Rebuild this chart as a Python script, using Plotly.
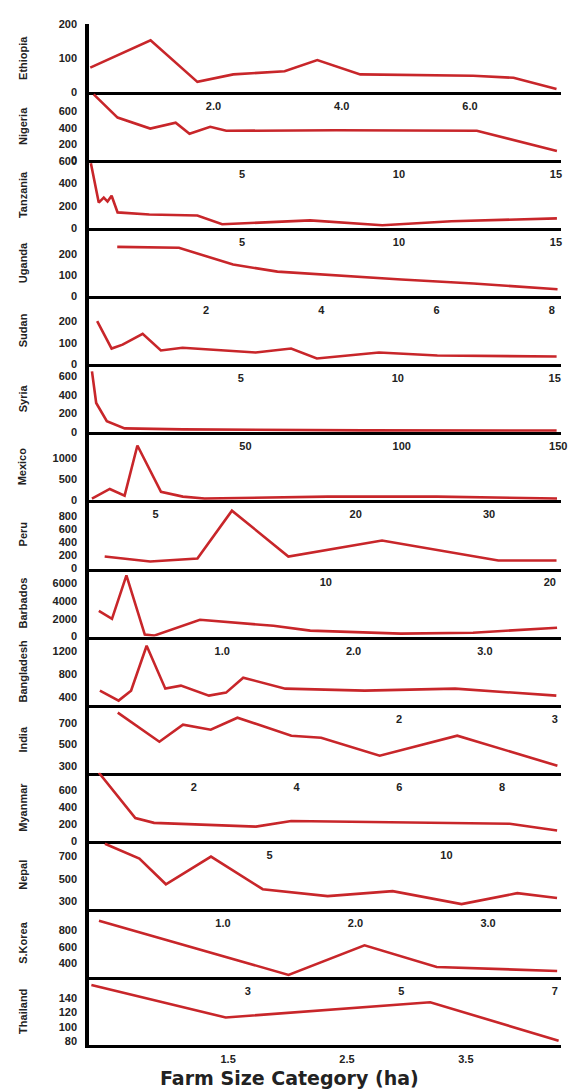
import plotly.graph_objects as go
from plotly.subplots import make_subplots

countries = ["Ethiopia", "Nigeria", "Tanzania", "Uganda", "Sudan", "Syria", "Mexico",
             "Peru", "Barbados", "Bangladesh", "India", "Myanmar", "Nepal", "S.Korea", "Thailand"]

# farm size category (ha) and output per ha
ethiopia_x = [0.08, 1.02, 1.75, 2.31, 3.11, 3.62, 4.29, 6.05, 6.68, 7.35]
ethiopia_y = [72, 152, 30, 52, 61, 94, 52, 48, 42, 9]

nigeria_x = [0.28, 1.04, 2.08, 2.89, 3.33, 3.99, 4.5, 8.0, 12.48, 15.03]
nigeria_y = [812, 525, 390, 462, 325, 412, 362, 368, 362, 112]

tanzania_x = [0.19, 0.44, 0.6, 0.72, 0.85, 1.04, 2.05, 3.58, 4.37, 7.17, 9.47, 11.67, 15.03]
tanzania_y = [581, 229, 273, 238, 290, 141, 123, 114, 35, 70, 26, 62, 88]

uganda_x = [0.46, 1.53, 2.47, 3.24, 5.39, 6.64, 8.1]
uganda_y = [232, 228, 149, 116, 79, 60, 33]

sudan_x = [0.42, 0.88, 1.23, 1.87, 2.45, 3.14, 5.47, 6.6, 7.42, 9.4, 11.26, 15.06]
sudan_y = [200, 73, 91, 141, 64, 77, 55, 73, 27, 55, 41, 36]

syria_x = [0.95, 2.3, 5.7, 11.4, 30, 88, 149.5]
syria_y = [650, 313, 119, 43, 32, 22, 20]

mexico_x = [0.22, 1.56, 2.67, 3.63, 5.4, 7.04, 8.67, 17.9, 26.1, 35.1]
mexico_y = [45, 272, 113, 1300, 204, 91, 45, 91, 91, 45]

peru_x = [0.13, 2.16, 4.27, 5.81, 8.33, 12.51, 17.7, 20.3]
peru_y = [185, 108, 154, 890, 185, 431, 123, 123]

barbados_x = [0.06, 0.16, 0.27, 0.41, 0.48, 0.83, 1.39, 1.67, 2.36, 2.91, 3.55]
barbados_y = [2890, 2000, 6880, 220, 110, 1890, 1220, 670, 330, 440, 1000]

bangladesh_x = [0.08, 0.2, 0.28, 0.38, 0.5, 0.6, 0.78, 0.89, 1.0, 1.27, 1.78, 2.36, 3.01]
bangladesh_y = [519, 349, 519, 1284, 553, 604, 434, 485, 740, 553, 519, 553, 434]

india_x = [0.52, 1.33, 1.79, 2.33, 2.85, 3.9, 4.48, 5.62, 7.13, 9.08]
india_y = [793, 523, 681, 635, 746, 579, 560, 393, 579, 300]

myanmar_x = [0.17, 1.2, 1.73, 4.61, 5.61, 11.79, 13.13]
myanmar_y = [800, 267, 211, 167, 233, 200, 122]

nepal_x = [0.11, 0.37, 0.57, 0.91, 1.3, 1.79, 2.28, 2.8, 3.22, 3.52]
nepal_y = [816, 683, 451, 700, 407, 345, 389, 273, 371, 327]

skorea_x = [1.06, 3.53, 4.52, 5.46, 7.03]
skorea_y = [920, 255, 618, 352, 303]

thailand_x = [0.35, 1.48, 3.2, 4.28]
thailand_y = [158, 113, 134, 81]

series_x = [ethiopia_x, nigeria_x, tanzania_x, uganda_x, sudan_x, syria_x, mexico_x, peru_x,
            barbados_x, bangladesh_x, india_x, myanmar_x, nepal_x, skorea_x, thailand_x]
series_y = [ethiopia_y, nigeria_y, tanzania_y, uganda_y, sudan_y, syria_y, mexico_y, peru_y,
            barbados_y, bangladesh_y, india_y, myanmar_y, nepal_y, skorea_y, thailand_y]

# x tick values / labels per panel
x_tickvals = [[2, 4, 6], [5, 10, 15], [5, 10, 15], [2, 4, 6, 8], [5, 10, 15], [50, 100, 150],
              [5, 20, 30], [10, 20], [1, 2, 3], [2, 3], [2, 4, 6, 8], [5, 10], [1, 2, 3],
              [3, 5, 7], [1.5, 2.5, 3.5]]
x_ticktext = [["2.0", "4.0", "6.0"], ["5", "10", "15"], ["5", "10", "15"], ["2", "4", "6", "8"],
              ["5", "10", "15"], ["50", "100", "150"], ["5", "20", "30"], ["10", "20"],
              ["1.0", "2.0", "3.0"], ["2", "3"], ["2", "4", "6", "8"], ["5", "10"],
              ["1.0", "2.0", "3.0"], ["3", "5", "7"], ["1.5", "2.5", "3.5"]]
# y tick values per panel
y_tickvals = [[0, 100, 200], [0, 200, 400, 600], [0, 200, 400, 600], [0, 100, 200],
              [0, 100, 200], [0, 200, 400, 600], [0, 500, 1000], [0, 200, 400, 600, 800],
              [0, 2000, 4000, 6000], [400, 800, 1200], [300, 500, 700], [0, 200, 400, 600],
              [300, 500, 700], [400, 600, 800], [80, 100, 120, 140]]

# axis ranges (layout)
x_ranges = [[0.06, 7.42], [0.13, 15.16], [0.13, 15.16], [-0.03, 8.16], [0.16, 15.2], [0, 150.9],
            [0, 35.4], [-0.57, 20.5], [-0.015, 3.58], [0.01, 3.04], [-0.04, 9.15], [-0.11, 13.24],
            [-0.01, 3.55], [0.93, 7.08], [0.33, 4.3]]
y_ranges = [[0, 200], [0, 840], [0, 608], [0, 320], [0, 315], [0, 725], [0, 1610], [0, 1046],
            [0, 7660], [280, 1440], [235, 867], [0, 800], [230, 842], [230, 1065], [75, 169]]

n = len(countries)
fig = make_subplots(rows=n, cols=1, vertical_spacing=0)

LINE_RED = "#c8262a"
TXT = "#222222"
TICKFONT = dict(family="Liberation Sans", size=11, color=TXT, weight="bold")

for i in range(n):
    fig.add_trace(go.Scatter(x=series_x[i], y=series_y[i], mode="lines", name=countries[i],
                             line=dict(color=LINE_RED, width=2.6), showlegend=False),
                  row=i + 1, col=1)
    fig.update_xaxes(range=x_ranges[i], tickvals=x_tickvals[i], ticktext=x_ticktext[i],
                     showline=True, linecolor="black", linewidth=2.5, showgrid=False,
                     zeroline=False, ticks="", ticklabelstandoff=2, tickfont=TICKFONT,
                     row=i + 1, col=1)
    fig.update_yaxes(range=y_ranges[i], tickvals=y_tickvals[i],
                     showline=True, linecolor="black", linewidth=3.5, showgrid=False,
                     zeroline=False, ticks="", ticklabelstandoff=6, tickfont=TICKFONT,
                     row=i + 1, col=1)

# country names, rotated, left of the tick labels
panel_h = 1.0 / n
for i in range(n):
    fig.add_annotation(text=countries[i], xref="paper", yref="paper",
                       x=-0.14, y=1 - (i + 0.5) * panel_h, textangle=-90,
                       xanchor="center", yanchor="middle", showarrow=False,
                       font=dict(family="Liberation Sans", size=11, color=TXT, weight="bold"))

fig.add_annotation(text="Farm Size Category (ha)", xref="paper", yref="paper",
                   x=(292 - 89) / 478, y=-0.0322, xanchor="center", yanchor="middle",
                   showarrow=False,
                   font=dict(family="DejaVu Sans", size=19, color=TXT, weight="bold"))

# the page body adds an 8px margin, so the figure is offset by 8px
fig.update_layout(width=569, height=1084, margin=dict(l=81, r=10, t=12, b=47),
                  plot_bgcolor="white", paper_bgcolor="white", showlegend=False)

fig.write_html("out.html")
